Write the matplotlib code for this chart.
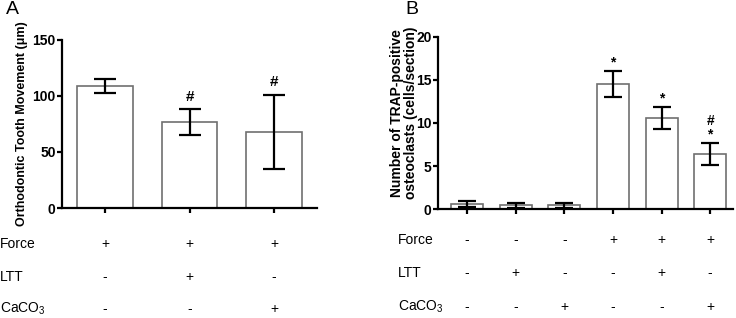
import matplotlib
matplotlib.use("Agg")
import matplotlib.pyplot as plt
from matplotlib.transforms import blended_transform_factory

plt.rcParams['font.family'] = ['Liberation Sans', 'DejaVu Sans']
plt.rcParams['mathtext.default'] = 'regular'

# Panel A data
a_means = [109, 76.5, 68]
a_errs = [6, 11.7, 33]
a_marks = ['', '#', '#']
a_force = ['+', '+', '+']
a_ltt = ['-', '+', '-']
a_caco3 = ['-', '-', '+']

# Panel B data
b_means = [0.62, 0.48, 0.48, 14.5, 10.55, 6.4]
b_errs = [0.35, 0.3, 0.3, 1.5, 1.3, 1.25]
b_marks = ['', '', '', '*', '*', '*']
b_marks2 = ['', '', '', '', '', '#']
b_force = ['-', '-', '-', '+', '+', '+']
b_ltt = ['-', '+', '-', '-', '+', '-']
b_caco3 = ['-', '-', '+', '-', '-', '+']

row_names = ['Force', 'LTT', 'CaCO$_3$']

W, H = 736, 318
fig = plt.figure(figsize=(W / 100, H / 100), dpi=100)

def fx(px):
    return px / W

def fy(py):
    return 1 - py / H

axA = fig.add_axes([fx(62), fy(208), fx(317) - fx(62), fy(40) - fy(208)])
axB = fig.add_axes([fx(438), fy(209.3), fx(733) - fx(438), fy(36.7) - fy(209.3)])

edge = '#707070'

def style(ax):
    for s in ['top', 'right']:
        ax.spines[s].set_visible(False)
    for s in ['left', 'bottom']:
        ax.spines[s].set_linewidth(1.6)
    ax.tick_params(axis='both', direction='out', length=3.5, width=1.6,
                   labelsize=10, pad=1)
    for lab in ax.get_yticklabels():
        lab.set_fontweight('bold')
    ax.set_xticklabels([])

# Panel A
xa = list(range(len(a_means)))
axA.bar(xa, a_means, width=0.66, color='white', edgecolor=edge, linewidth=1.2, zorder=2)
axA.errorbar(xa, a_means, yerr=a_errs, fmt='none', ecolor='black',
             elinewidth=1.6, capsize=8, capthick=1.6, zorder=3)
axA.set_xlim(-0.51, 2.51)
axA.set_ylim(0, 150)
axA.set_yticks([0, 50, 100, 150])
axA.set_xticks(xa)
style(axA)
for x, m, e, t in zip(xa, a_means, a_errs, a_marks):
    if t:
        axA.annotate(t, (x, m + e), xytext=(0, 9), textcoords='offset points',
                     ha='center', va='center', fontsize=11, fontweight='bold')

# Panel B
xb = list(range(len(b_means)))
axB.bar(xb, b_means, width=0.66, color='white', edgecolor=edge, linewidth=1.2, zorder=2)
axB.errorbar(xb, b_means, yerr=b_errs, fmt='none', ecolor='black',
             elinewidth=1.6, capsize=6.5, capthick=1.6, zorder=3)
axB.set_xlim(-0.6, 5.47)
axB.set_ylim(0, 20)
axB.set_yticks([0, 5, 10, 15, 20])
axB.set_xticks(xb)
style(axB)
for x, m, e, t, t2 in zip(xb, b_means, b_errs, b_marks, b_marks2):
    if t:
        axB.annotate(t, (x, m + e), xytext=(0, 6.5), textcoords='offset points',
                     ha='center', va='center', fontsize=10, fontweight='bold')
    if t2:
        axB.annotate(t2, (x, m + e), xytext=(0, 16), textcoords='offset points',
                     ha='center', va='center', fontsize=10, fontweight='bold')

# y labels
fig.text(fx(22), fy(124), 'Orthodontic Tooth Movement (\u03bcm)', rotation=90,
         ha='center', va='center', fontsize=9, fontweight='bold')
fig.text(fx(404), fy(113), 'Number of TRAP-positive\nosteoclasts (cells/section)',
         rotation=90, ha='center', va='center', fontsize=10, fontweight='bold',
         linespacing=0.95, multialignment='center')

# panel letters
fig.text(fx(6), fy(9), 'A', fontsize=14, ha='left', va='center')
fig.text(fx(405), fy(9.5), 'B', fontsize=14, ha='left', va='center')

# condition table
def table(ax, rows, ys, label_x):
    tr = blended_transform_factory(ax.transData, fig.transFigure)
    for name, vals, y in zip(row_names, rows, ys):
        fig.text(fx(label_x), fy(y), name, fontsize=10, ha='left', va='center')
        for i, v in enumerate(vals):
            ax.text(i, fy(y), v, transform=tr, fontsize=10, ha='center', va='center',
                    clip_on=False)

table(axA, [a_force, a_ltt, a_caco3], [244, 277, 309], 0)
table(axB, [b_force, b_ltt, b_caco3], [240, 273, 307], 398)

fig.savefig('out.png', dpi=100)
